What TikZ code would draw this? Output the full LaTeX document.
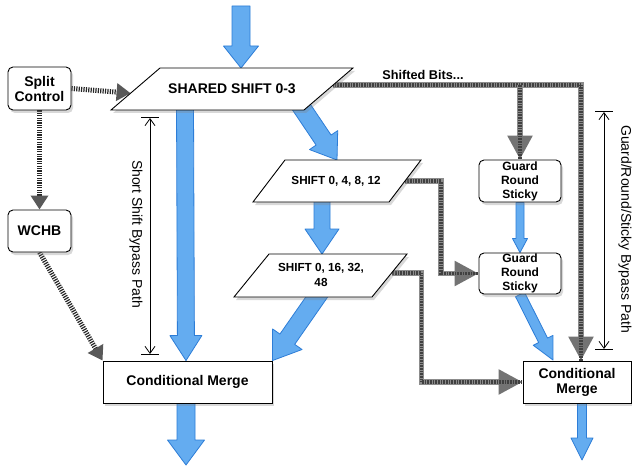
\documentclass[tikz,border=0pt]{standalone}
\usepackage{fontspec}
\setmainfont{Liberation Sans}
\usetikzlibrary{arrows.meta,calc,shadows}
\pgfdeclarelayer{bg}
\pgfdeclarelayer{back}
\pgfsetlayers{bg,back,main}
\definecolor{bluefill}{RGB}{100,172,240}
\definecolor{blueedge}{RGB}{45,125,215}
% #1 from, #2 to, #3 half shaft width, #4 half head width, #5 head length
\newcommand\fatarrow[5]{%
  \coordinate (fa-h) at ($(#2)!#5!(#1)$);
  \filldraw[fatstyle] ($(#1)!#3!90:(#2)$) -- ($(fa-h)!#3!90:(#2)$) -- ($(fa-h)!#4!90:(#2)$)
    -- (#2) -- ($(fa-h)!#4!-90:(#2)$) -- ($(fa-h)!#3!-90:(#2)$) -- ($(#1)!#3!-90:(#2)$) -- cycle;}
\begin{document}
\begin{tikzpicture}[x=1pt,y=-1pt,
  shadowed/.style={drop shadow={opacity=0.3, shadow xshift=2pt, shadow yshift=-3pt}},
  lbl/.style={font=\bfseries\fontsize{14}{15}\selectfont, align=center},
  rbox/.style={draw, line width=0.9pt, fill=white, rounded corners=5pt, inner sep=0pt, shadowed, lbl},
  sbox/.style={draw, line width=0.9pt, fill=white, inner sep=0pt, shadowed, lbl},
  para/.style={draw, line width=0.9pt, fill=white, line join=miter, shadowed},
  fatstyle/.style={fill=bluefill, draw=blueedge, line width=0.8pt, line join=round},
  hatch/.style={line width=5pt, draw=black!85, dash pattern=on 1.2pt off 1.2pt,
    -{Triangle[width=17pt,length=14pt,color=black!65]}},
  bits/.style={line width=5.5pt, draw=black!45,
    -{Triangle[width=24pt,length=24pt,color=black!55]},
    postaction={draw=black!75, line width=3.5pt, dash pattern=on 0.6pt off 1pt, -}},
  dimline/.style={line width=0.8pt, {Straight Barb[length=7pt,width=10pt]}-{Straight Barb[length=7pt,width=10pt]}},
  dimbar/.style={line width=1pt},
  rot/.style={font=\fontsize{14}{16}\selectfont, rotate=-90}
]
\begin{pgfonlayer}{bg}
  \fill[white] (0,0) rectangle (632,468);
\end{pgfonlayer}
\useasboundingbox (0,0) rectangle (632,468);

% rounded boxes
\node[rbox, minimum width=63pt, minimum height=43pt] (split) at (39.5,88.5) {Split\\Control};
\node[rbox, minimum width=63pt, minimum height=42pt] (wchb) at (39.5,231) {WCHB};
\node[rbox, minimum width=82pt, minimum height=42pt, font=\bfseries\fontsize{12}{14}\selectfont] (grs1) at (520,181) {Guard\\Round\\Sticky};
\node[rbox, minimum width=82pt, minimum height=41pt, font=\bfseries\fontsize{12}{14}\selectfont] (grs2) at (520,273.5) {Guard\\Round\\Sticky};
% merge boxes
\node[sbox, minimum width=169pt, minimum height=42pt] (cm1) at (187.5,382) {Conditional Merge};
\node[sbox, minimum width=108pt, minimum height=42pt] (cm2) at (577,382) {Conditional\\Merge};

% parallelograms
\coordinate (ss-tl) at (160,68);  \coordinate (ss-tr) at (353,68);
\coordinate (ss-br) at (304,110); \coordinate (ss-bl) at (111,110);
\draw[para] (ss-tl) -- (ss-tr) -- (ss-br) -- (ss-bl) -- cycle;
\node[lbl] (ss) at (232,89) {SHARED SHIFT 0-3};

\coordinate (s4-tl) at (285,160);  \coordinate (s4-tr) at (421,160);
\coordinate (s4-br) at (389,202);  \coordinate (s4-bl) at (253,202);
\draw[para] (s4-tl) -- (s4-tr) -- (s4-br) -- (s4-bl) -- cycle;
\node[lbl, font=\bfseries\fontsize{11.7}{15}\selectfont] (s4) at (336,181) {SHIFT 0, 4, 8, 12};

\coordinate (s16-tl) at (269,254); \coordinate (s16-tr) at (407,254);
\coordinate (s16-br) at (372,297); \coordinate (s16-bl) at (234,297);
\draw[para] (s16-tl) -- (s16-tr) -- (s16-br) -- (s16-bl) -- cycle;
\node[lbl, font=\bfseries\fontsize{11.7}{15}\selectfont] (s16) at (321,275) {SHIFT 0, 16, 32,\\48};

% labels
\node[lbl, font=\bfseries\fontsize{12.7}{14}\selectfont] (bitslbl) at (423,75) {Shifted Bits...};
\node[rot] (sslbl) at (136,234) {Short Shift Bypass Path};
\node[rot] (grslbl) at (625,229) {Guard/Round/Sticky Bypass Path};

% dimension lines
\coordinate (d1t) at (150,118); \coordinate (d1b) at (150,354);
\draw[dimline] (d1t) -- (d1b);
\draw[dimbar] ([xshift=-9pt]d1t) -- ([xshift=9pt]d1t);
\draw[dimbar] ([xshift=-9pt]d1b) -- ([xshift=9pt]d1b);
\coordinate (d2t) at (604,112); \coordinate (d2b) at (604,349);
\draw[dimline] (d2t) -- (d2b);
\draw[dimbar] ([xshift=-9pt]d2t) -- ([xshift=9pt]d2t);
\draw[dimbar] ([xshift=-9pt]d2b) -- ([xshift=9pt]d2b);

\begin{pgfonlayer}{back}
  % control connectors
  \coordinate (ss-in) at ($(ss-bl)!0.4!(ss-tl)$);
  \draw[hatch] (split.east) -- (ss-in);
  \draw[hatch] (split.south) -- (wchb.north);
  \draw[hatch] (wchb.south) -- (cm1.north west);
  % shifted bits connectors
  \coordinate (ss-out) at ($(ss-tr)!0.4!(ss-br)$);
  \coordinate (cm2-top) at ([xshift=4pt]cm2.north);
  \draw[bits] (ss-out) -| (cm2-top);
  \coordinate (br) at (grs1.north |- ss-out);
  \draw[bits] (br) -- (grs1.north);
  \coordinate (s4-out) at ($(s4-tr)!0.5!(s4-br)$);
  \draw[bits] (s4-out) -- ++(36,0) |- (grs2.west);
  \coordinate (s16-out) at ($(s16-tr)!0.44!(s16-br)$);
  \draw[bits] (s16-out) -- ++(30,0) |- (cm2.west);
  % data arrows
  \coordinate (in-top) at (241,6);  \coordinate (ss-topin) at (241,68);
  \fatarrow{in-top}{ss-topin}{9pt}{17.5pt}{22pt}
  \coordinate (ss-b1) at (185,104); \coordinate (cm1-in) at ([xshift=-1.5pt]cm1.north);
  \fatarrow{ss-b1}{cm1-in}{8.5pt}{16pt}{25pt}
  \coordinate (ss-b2) at (298,102); \coordinate (s4-in) at (337,160);
  \fatarrow{ss-b2}{s4-in}{9pt}{17pt}{24pt}
  \coordinate (s4-b) at (322,196); \coordinate (s16-in) at (322,254);
  \fatarrow{s4-b}{s16-in}{8pt}{17pt}{25pt}
  \coordinate (s16-b) at (323,288); \coordinate (cm1-ne) at (cm1.north east);
  \fatarrow{s16-b}{cm1-ne}{9pt}{18pt}{26pt}
  \coordinate (grs1-b) at (grs1.south); \coordinate (grs2-in) at (grs2.north);
  \fatarrow{grs1-b}{grs2-in}{4pt}{7.5pt}{14pt}
  \coordinate (grs2-b) at (grs2.south); \coordinate (cm2-in) at (553,360);
  \fatarrow{grs2-b}{cm2-in}{5pt}{11pt}{22pt}
  \coordinate (cm2-b) at ([xshift=5pt]cm2.south); \coordinate (out2) at (582,460);
  \fatarrow{cm2-b}{out2}{4.5pt}{11pt}{22pt}
  \coordinate (cm1-b) at ([xshift=-1.5pt]cm1.south); \coordinate (out1) at (186,465);
  \fatarrow{cm1-b}{out1}{9pt}{18.5pt}{25pt}
\end{pgfonlayer}
\end{tikzpicture}
\end{document}
